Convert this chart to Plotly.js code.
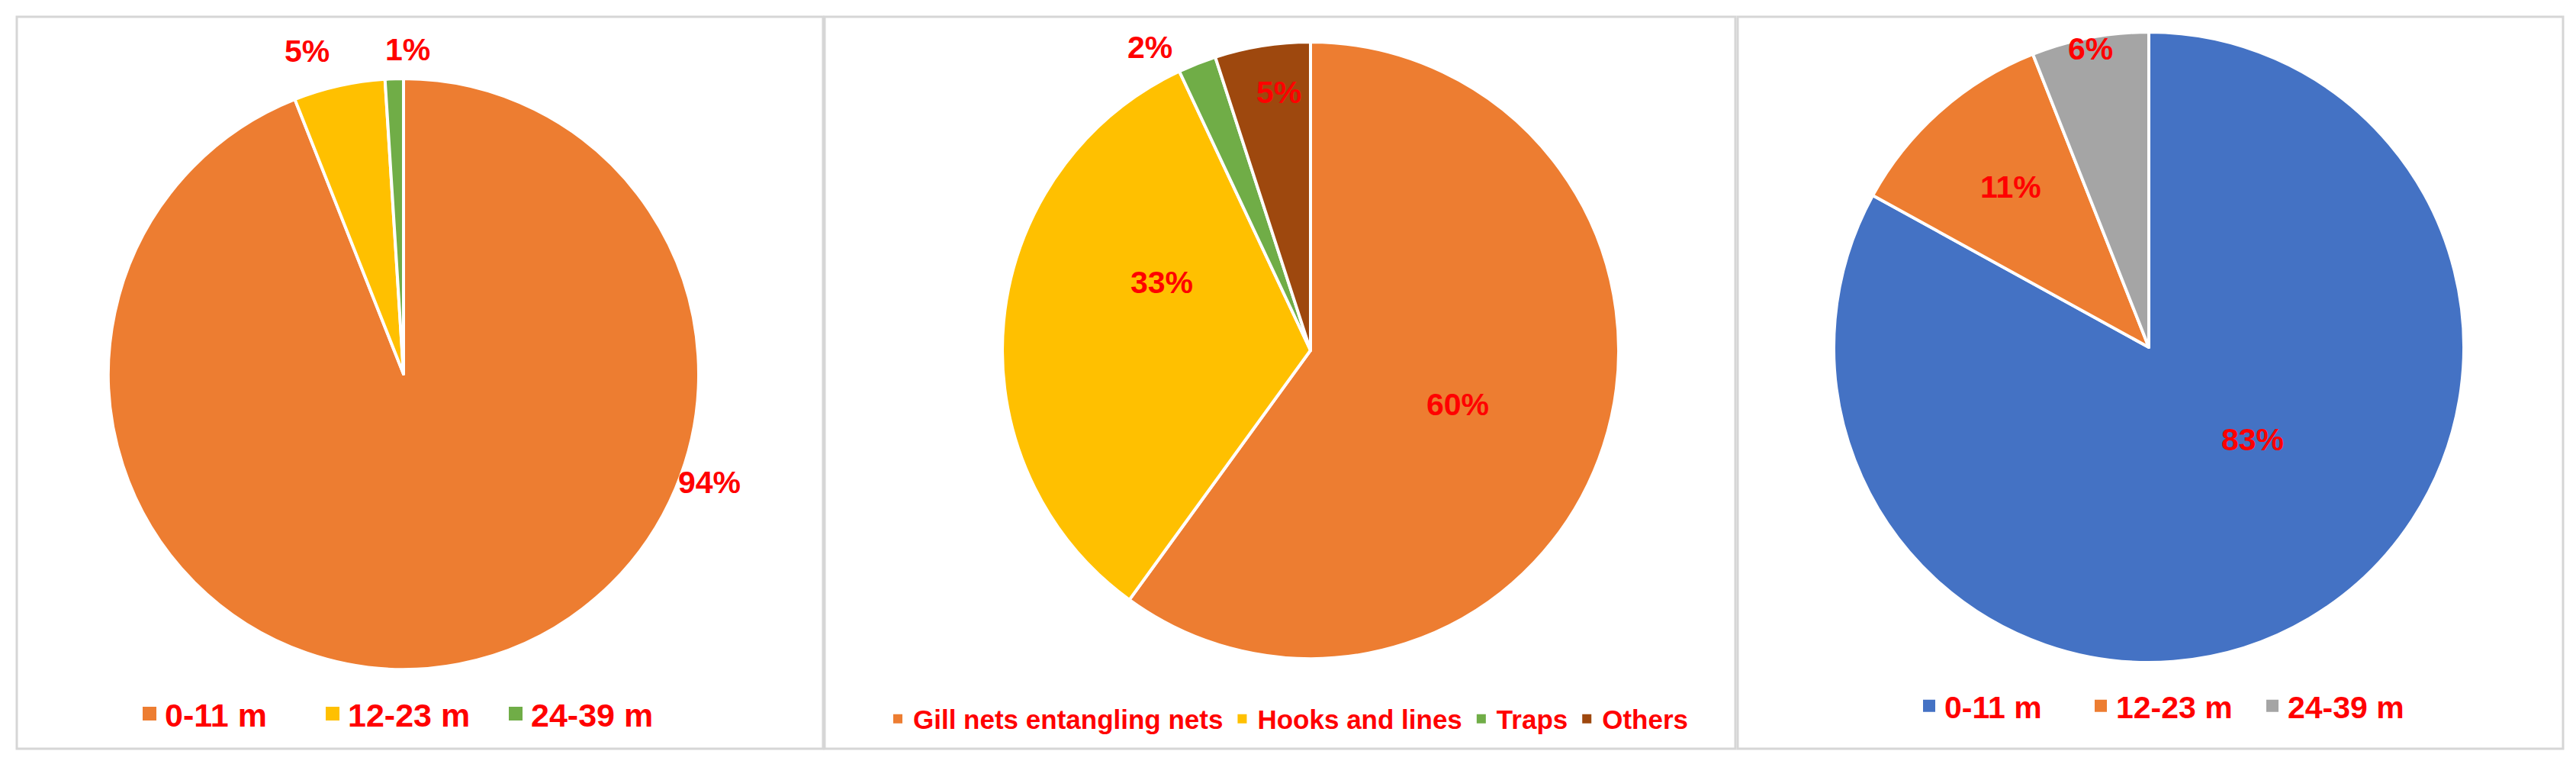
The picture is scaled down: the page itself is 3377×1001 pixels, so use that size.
<!DOCTYPE html>
<html><head><meta charset="utf-8">
<script src="https://cdn.plot.ly/plotly-3.0.1.min.js"></script>
<style>html,body{margin:0;padding:0;background:#fff;overflow:hidden}</style>
</head><body>
<div id="chart" style="width:3377px;height:1001px"></div>
<script>
// ---- data ----
const lengthLabelsA = ['0-11 m', '12-23 m', '24-39 m'];
const lengthShareA = [94, 5, 1];
const gearLabels = ['Gill nets entangling nets', 'Hooks and lines', 'Traps', 'Others'];
const gearShare = [60, 33, 2, 5];
// (non-breaking spaces keep these legend entries separate from the first chart's)
const lengthLabelsB = ['0-11\u00a0m', '12-23\u00a0m', '24-39\u00a0m'];
const lengthShareB = [83, 11, 6];

// ---- styles ----
const colorsA = ['#ED7D31', '#FFC000', '#70AD47'];
const colorsG = ['#ED7D31', '#FFC000', '#70AD47', '#9E480E'];
const colorsB = ['#4472C4', '#ED7D31', '#A5A5A5'];
const W = 3377, H = 1001;
const FONT = '"Liberation Sans", Arial, sans-serif';
const RED = '#FF0000';
const px = x => x / W;
const py = y => 1 - y / H;

function domainFor(cx, cy, r) {
  return { x: [px(cx - r), px(cx + r)], y: [py(cy + r), py(cy - r)] };
}

const pies = [
  { labels: lengthLabelsA, values: lengthShareA, colors: colorsA, cx: 529, cy: 490, r: 387, legend: 'legend' },
  { labels: gearLabels, values: gearShare, colors: colorsG, cx: 1718, cy: 459, r: 404, legend: 'legend2' },
  { labels: lengthLabelsB, values: lengthShareB, colors: colorsB, cx: 2817, cy: 455, r: 413, legend: 'legend3' }
];

const traces = pies.map(p => ({
  type: 'pie',
  labels: p.labels,
  values: p.values,
  sort: false,
  direction: 'clockwise',
  rotation: 0,
  textinfo: 'none',
  hoverinfo: 'label+percent',
  marker: { colors: p.colors, line: { color: '#FFFFFF', width: 4 } },
  domain: domainFor(p.cx, p.cy, p.r),
  legend: p.legend,
  showlegend: true
}));

// label anchor positions (px) for each slice's percentage text
const labelPos = [
  [[930, 632], [402, 67], [534, 65]],
  [[1911, 530], [1523, 370], [1507, 62], [1676, 121]],
  [[2953, 576], [2636, 245], [2740, 64]]
];

const annotations = [];
pies.forEach((p, i) => {
  const total = p.values.reduce((a, b) => a + b, 0);
  p.values.forEach((v, j) => {
    annotations.push({
      xref: 'paper', yref: 'paper',
      x: px(labelPos[i][j][0]), y: py(labelPos[i][j][1]),
      xanchor: 'center', yanchor: 'middle',
      text: Math.round(v / total * 100) + '%',
      showarrow: false,
      font: { family: FONT, size: 41, color: RED, weight: 'bold' }
    });
  });
});

const panels = [[22, 1079], [1081, 2275], [2278, 3360]];
const shapes = panels.map(([x0, x1]) => ({
  type: 'rect', xref: 'paper', yref: 'paper',
  x0: px(x0), x1: px(x1), y0: py(981), y1: py(22),
  line: { color: '#D6D6D6', width: 3 }, fillcolor: 'rgba(0,0,0,0)', layer: 'below'
}));

function legendAt(x, xanchor, cy, size, entrywidth) {
  const l = {
    orientation: 'h', x: px(x), xanchor: xanchor, y: py(cy), yanchor: 'middle',
    font: { family: FONT, size: size, color: RED, weight: 'bold' },
    bgcolor: 'rgba(0,0,0,0)', traceorder: 'normal', itemclick: false
  };
  if (entrywidth) { l.entrywidth = entrywidth; l.entrywidthmode = 'pixels'; }
  return l;
}

const layout = {
  width: W, height: H,
  margin: { l: 0, r: 0, t: 0, b: 0 },
  paper_bgcolor: '#FFFFFF',
  showlegend: true,
  legend: legendAt(176, 'left', 935, 43, 195),
  legend2: legendAt(1688, 'center', 942, 35, 0),
  legend3: legendAt(2509, 'left', 925, 41, 180),
  annotations: annotations,
  shapes: shapes
};

const symbolHalf = { legend: 11, legend2: 8, legend3: 10 };
Plotly.newPlot('chart', traces, layout, { staticPlot: true, displayModeBar: false }).then(gd => {
  Object.keys(symbolHalf).forEach(id => {
    const s = symbolHalf[id];
    gd.querySelectorAll('g.' + id + ' path.legendpie').forEach(p => {
      p.setAttribute('d', 'M' + s + ',' + s + 'H-' + s + 'V-' + s + 'H' + s + 'Z');
    });
  });
});
</script>
</body></html>
